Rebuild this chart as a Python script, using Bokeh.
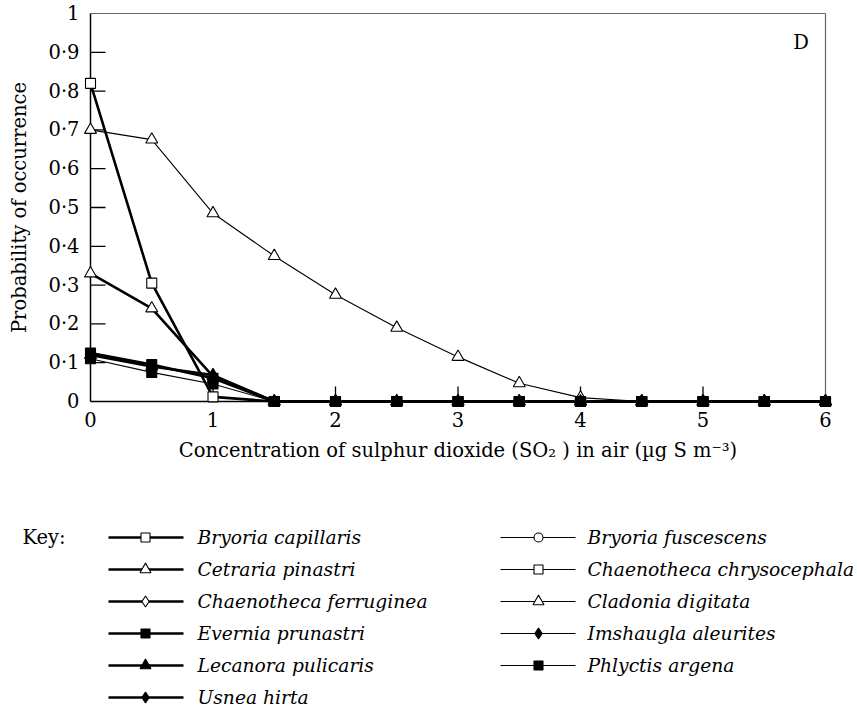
from bokeh.plotting import figure
from bokeh.models import Range1d, FixedTicker, Label
from bokeh.layouts import column
from bokeh.core.properties import value
from bokeh.embed import file_html
from bokeh.resources import INLINE

# ---------------- data ----------------
conc = [0, 0.5, 1, 1.5, 2, 2.5, 3, 3.5, 4, 4.5, 5, 5.5, 6]
bryoria_capillaris = [0.82, 0.305, 0.012, 0, 0, 0, 0, 0, 0, 0, 0, 0, 0]
cetraria_pinastri = [0.33, 0.24, 0.065, 0, 0, 0, 0, 0, 0, 0, 0, 0, 0]
chaenotheca_ferruginea = []      # not present in panel D
evernia_prunastri = [0.125, 0.095, 0.06, 0, 0, 0, 0, 0, 0, 0, 0, 0, 0]
lecanora_pulicaris = [0.12, 0.09, 0.068, 0, 0, 0, 0, 0, 0, 0, 0, 0, 0]
usnea_hirta = []                 # not present in panel D
bryoria_fuscescens = []          # not present in panel D
chaenotheca_chrysocephala = []   # not present in panel D
cladonia_digitata = [0.70, 0.675, 0.485, 0.375, 0.275, 0.19, 0.115, 0.047, 0.01, 0, 0, 0, 0]
imshaugla_aleurites = []         # not present in panel D
phlyctis_argena = [0.11, 0.075, 0.045, 0, 0, 0, 0, 0, 0, 0, 0, 0, 0]

x_ticks = [0, 1, 2, 3, 4, 5, 6]
y_ticks = [0, 0.1, 0.2, 0.3, 0.4, 0.5, 0.6, 0.7, 0.8, 0.9, 1]
y_tick_labels = ["0", "0·1", "0·2", "0·3", "0·4", "0·5", "0·6", "0·7", "0·8", "0·9", "1"]

# name, values, marker, filled, thick, legend column
series = [
    ("Bryoria capillaris", bryoria_capillaris, "square", False, True, 0),
    ("Cetraria pinastri", cetraria_pinastri, "triangle", False, True, 0),
    ("Chaenotheca ferruginea", chaenotheca_ferruginea, "diamond", False, True, 0),
    ("Evernia prunastri", evernia_prunastri, "square", True, True, 0),
    ("Lecanora pulicaris", lecanora_pulicaris, "triangle", True, True, 0),
    ("Usnea hirta", usnea_hirta, "diamond", True, True, 0),
    ("Bryoria fuscescens", bryoria_fuscescens, "circle", False, False, 1),
    ("Chaenotheca chrysocephala", chaenotheca_chrysocephala, "square", False, False, 1),
    ("Cladonia digitata", cladonia_digitata, "triangle", False, False, 1),
    ("Imshaugla aleurites", imshaugla_aleurites, "diamond", True, False, 1),
    ("Phlyctis argena", phlyctis_argena, "square", True, False, 1),
]

FONT = "DejaVu Serif"
FS = "19.5px"
LFS = "18.7px"
THICK = 2.6
THIN = 1.1
MSIZE = {"square": 10, "triangle": 12, "diamond": 12, "circle": 10}

# ---------------- main plot ----------------
XS = 122.5  # px per x unit
YS = 388.0  # px per y unit
PAD = 8
p = figure(width=857, height=470, output_backend="svg", toolbar_location=None,
           x_range=Range1d(-PAD / XS, 6 + PAD / XS),
           y_range=Range1d(-PAD / YS, 1 + PAD / YS),
           min_border_left=82, min_border_right=24, min_border_top=5, min_border_bottom=61)
p.frame_align = False
p.outline_line_color = None
p.xgrid.visible = False
p.ygrid.visible = False
p.background_fill_color = "white"
p.border_fill_color = "white"

for ax in (p.xaxis, p.yaxis):
    ax.axis_line_color = None
    ax.major_tick_in = 0
    ax.major_tick_out = 0
    ax.minor_tick_line_color = None
    ax.major_label_text_font = FONT
    ax.major_label_text_font_size = FS
    ax.major_label_text_color = "black"
    ax.axis_label_text_font = FONT
    ax.axis_label_text_font_size = FS
    ax.axis_label_text_font_style = "normal"
    ax.axis_label_text_color = "black"

p.xaxis.ticker = FixedTicker(ticks=x_ticks)
p.yaxis.ticker = FixedTicker(ticks=y_ticks)
p.yaxis.major_label_overrides = {t: l for t, l in zip(y_ticks, y_tick_labels)}
p.xaxis.major_label_standoff = 2
p.yaxis.major_label_standoff = 3
p.xaxis.axis_label = "Concentration of sulphur dioxide (SO₂ ) in air (µg S m⁻³)"
p.yaxis.axis_label = "Probability of occurrence"
p.xaxis.axis_label_standoff = 9
p.yaxis.axis_label_standoff = 14

# frame lines
p.segment(x0=[0, 6], y0=[1, 0], x1=[6, 6], y1=[1, 1], line_color="#666666", line_width=1.2)
p.segment(x0=[0, 0], y0=[0, 0], x1=[0, 6], y1=[1, 0], line_color="black", line_width=1.5)
# inward ticks
yt = [t for t in y_ticks if 0 < t < 1]
p.segment(x0=[0] * len(yt), y0=yt, x1=[15 / XS] * len(yt), y1=yt, line_color="black", line_width=1.3)
xt = [t for t in x_ticks if 0 < t < 6]
p.segment(x0=xt, y0=[0] * len(xt), x1=xt, y1=[15 / YS] * len(xt), line_color="black", line_width=1.3)

# draw order: filled squares last
order = [6, 2, 5, 9, 7, 0, 1, 8, 4, 10, 3]
for i in order:
    name, vals, marker, filled, thick, _ = series[i]
    if vals:
        p.line(conc[:len(vals)], vals, line_color="black", line_width=THICK if thick else THIN)
for i in order:
    name, vals, marker, filled, thick, _ = series[i]
    if vals:
        p.scatter(conc[:len(vals)], vals, marker=marker, size=MSIZE[marker],
                  fill_color="black" if filled else "white", line_color="black", line_width=1.1)

p.add_layout(Label(x=5.8, y=0.925, text="D", text_font=FONT, text_font_size=FS,
                   text_align="center", text_baseline="middle", text_color="black"))

# ---------------- key (its own full-width frame, data units == page px) ----------------
L = figure(width=857, height=238, output_backend="svg", toolbar_location=None,
           x_range=Range1d(0, 857), y_range=Range1d(238, 0),
           x_axis_type=None, y_axis_type=None,
           min_border_left=0, min_border_right=0, min_border_top=0, min_border_bottom=0)
L.frame_align = False
L.outline_line_color = None
L.xgrid.visible = False
L.ygrid.visible = False

row0 = 67
row_step = 32
col_line = [(108, 183, 145, 197), (500, 575, 538, 587)]
L.text(x=[22], y=[row0], text=["Key:"], text_font=value(FONT), text_font_size=FS,
       text_baseline="middle", text_color="black")
counts = [0, 0]
for name, vals, marker, filled, thick, col in series:
    r = counts[col]
    counts[col] += 1
    yy = row0 + r * row_step
    x0, x1, xm, xtxt = col_line[col]
    L.segment(x0=[x0], y0=[yy], x1=[x1], y1=[yy], line_color="black",
              line_width=THICK if thick else THIN)
    L.scatter(x=[xm], y=[yy], marker=marker, size=MSIZE[marker] - 1,
              fill_color="black" if filled else "white", line_color="black", line_width=1.1)
    L.text(x=[xtxt], y=[yy], text=[name], text_font=value(FONT), text_font_size=LFS,
           text_font_style="italic", text_baseline="middle", text_color="black")

layout = column(p, L, spacing=0)
open("out.html", "w").write(file_html(layout, INLINE))
